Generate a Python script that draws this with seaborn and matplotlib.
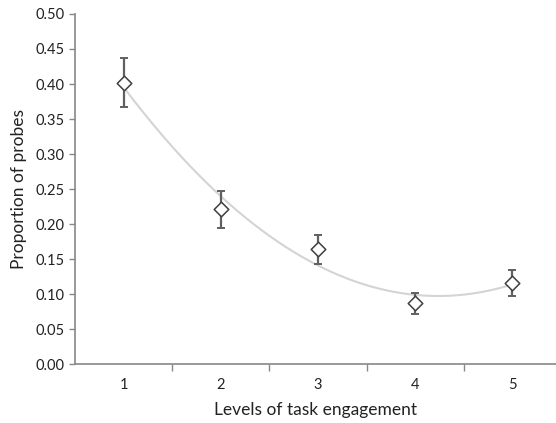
import numpy as np
import pandas as pd
import matplotlib
matplotlib.use("Agg")
import matplotlib.pyplot as plt
import seaborn as sns

# data
levels = [1, 2, 3, 4, 5]
proportion = [0.401, 0.221, 0.164, 0.087, 0.116]
err_low = [0.367, 0.194, 0.143, 0.071, 0.097]
err_high = [0.437, 0.247, 0.184, 0.101, 0.134]
y_ticks = [0.00, 0.05, 0.10, 0.15, 0.20, 0.25, 0.30, 0.35, 0.40, 0.45, 0.50]

df = pd.DataFrame({"level": levels, "prop": proportion})

# order-2 polynomial trendline (like the Excel one)
coef = np.polyfit(levels, proportion, 2)
xs = np.linspace(min(levels), max(levels), 200)
trend = pd.DataFrame({"level": xs, "prop": np.polyval(coef, xs)})

sns.set_style("ticks")
plt.rcParams["font.family"] = ["Lato", "DejaVu Sans"]

fig = plt.figure(figsize=(5.56, 4.23), dpi=100)
ax = fig.add_axes([0.135, 0.139, 0.865, 0.828])

sns.lineplot(data=trend, x="level", y="prop", ax=ax, color="#d4d4d4", linewidth=1.5, zorder=1)

yerr = [np.array(proportion) - np.array(err_low), np.array(err_high) - np.array(proportion)]
ax.errorbar(levels, proportion, yerr=yerr, fmt="none", ecolor="#606060",
            elinewidth=1.6, capsize=3, capthick=1.4, zorder=2)
sns.scatterplot(data=df, x="level", y="prop", ax=ax, marker="D", s=55,
                facecolor="white", edgecolor="#404040", linewidth=1.1, zorder=3)

ax.set_xlim(0.5, 5.45)
ax.set_ylim(0, 0.5)
ax.set_yticks(y_ticks)
ax.set_yticklabels([f"{t:.2f}" for t in y_ticks])
ax.set_xticks(levels)
ax.set_xticklabels([str(l) for l in levels])
ax.set_xticks([1.5, 2.5, 3.5, 4.5], minor=True)
ax.tick_params(axis="x", which="major", length=0, pad=10, labelsize=10.5, colors="#222222")
ax.tick_params(axis="x", which="minor", length=5, width=1, color="#888888")
ax.tick_params(axis="y", length=4, width=1, color="#888888", labelsize=10.5, labelcolor="#222222")

for side in ["top", "right"]:
    ax.spines[side].set_visible(False)
for side in ["left", "bottom"]:
    ax.spines[side].set_color("#888888")
    ax.spines[side].set_linewidth(1.2)

ax.set_xlabel("Levels of task engagement", fontsize=12.5, color="#222222", labelpad=7)
ax.set_ylabel("Proportion of probes", fontsize=12.5, color="#222222", labelpad=6)

fig.savefig("out.png", dpi=100)
